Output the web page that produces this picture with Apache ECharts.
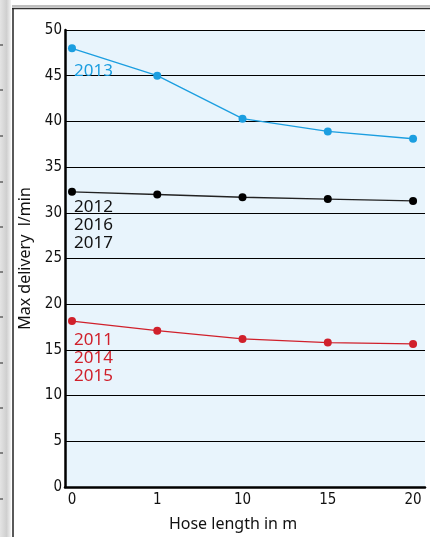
<!DOCTYPE html>
<html>
<head>
<meta charset="utf-8">
<script src="https://cdn.jsdelivr.net/npm/echarts@6/dist/echarts.min.js"></script>
<style>
html,body{margin:0;padding:0;background:#fff;}
#chart{width:430px;height:537px;}
</style>
</head>
<body>
<div id="chart"></div>
<script>
// Data
var hoseLengths = ['0', '1', '10', '15', '20'];
var yTicks = [0, 5, 10, 15, 20, 25, 30, 35, 40, 45, 50];
var series2013 = [48.0, 45.0, 40.3, 38.9, 38.1];
var series2012_2016_2017 = [32.3, 32.0, 31.7, 31.5, 31.3];
var series2011_2014_2015 = [18.15, 17.1, 16.2, 15.8, 15.65];
var labelBlue = '2013';
var labelBlack = ['2012', '2016', '2017'];
var labelRed = ['2011', '2014', '2015'];

function pts(arr) { return arr.map(function (v, i) { return [i, v]; }); }

var chart = echarts.init(document.getElementById('chart'), null, {renderer: 'canvas'});
var tickFont = '"DejaVu Sans Condensed", "Roboto", sans-serif';
var txtFont = 'Noto Sans';

var deco = [];
// left page strip
deco.push({type: 'rect', shape: {x: 0, y: 0, width: 11, height: 537}, silent: true,
  style: {fill: new echarts.graphic.LinearGradient(0, 0, 1, 0, [{offset: 0, color: '#e4e4e4'}, {offset: 0.6, color: '#cfcfcf'}, {offset: 1, color: '#f2f2f2'}])}});
[45, 90, 136, 182, 227, 272, 317, 363, 408, 453, 499].forEach(function (y) {
  deco.push({type: 'line', shape: {x1: 0, y1: y, x2: 3, y2: y}, silent: true, style: {stroke: '#222', lineWidth: 1}});
});
// frame
deco.push({type: 'line', shape: {x1: 12, y1: 6, x2: 430, y2: 6}, silent: true, style: {stroke: '#aaa', lineWidth: 1.5}});
deco.push({type: 'line', shape: {x1: 12, y1: 8.5, x2: 430, y2: 8.5}, silent: true, style: {stroke: '#333', lineWidth: 1.5}});
deco.push({type: 'line', shape: {x1: 13, y1: 8, x2: 13, y2: 537}, silent: true, style: {stroke: '#222', lineWidth: 1.5}});
// series annotations
deco.push({type: 'text', x: 74, y: 71.5, silent: true, z: 10,
  style: {text: labelBlue, fill: '#1b9ee0', font: '17px "' + txtFont + '"', verticalAlign: 'middle'}});
deco.push({type: 'text', x: 74, y: 198, silent: true, z: 10,
  style: {text: labelBlack.join('\n'), fill: '#111', font: '17px "' + txtFont + '"', lineHeight: 18, verticalAlign: 'top'}});
deco.push({type: 'text', x: 74, y: 331, silent: true, z: 10,
  style: {text: labelRed.join('\n'), fill: '#d0202b', font: '17px "' + txtFont + '"', lineHeight: 18, verticalAlign: 'top'}});

chart.setOption({
  animation: false,
  backgroundColor: '#fff',
  grid: {left: 65, right: 5, top: 30, bottom: 50, show: true, backgroundColor: '#e8f4fc', borderWidth: 0},
  xAxis: {
    type: 'value', min: -0.082, max: 4.14,
    name: 'Hose length in m', nameLocation: 'middle', nameGap: 29,
    nameTextStyle: {fontFamily: txtFont, fontSize: 16, color: '#111', padding: [0, 24, 0, 0]},
    axisLine: {show: true, onZero: false, lineStyle: {color: '#000', width: 2.5}},
    axisTick: {show: false},
    splitLine: {show: false},
    axisLabel: {customValues: [0, 1, 2, 3, 4], formatter: function (v) { return hoseLengths[Math.round(v)]; },
      fontFamily: tickFont, fontSize: 15, color: '#111', margin: 6}
  },
  yAxis: {
    type: 'value', min: 0, max: 50, interval: 5,
    name: 'Max delivery  l/min', nameLocation: 'middle', nameGap: 29, nameRotate: 90,
    nameTextStyle: {fontFamily: txtFont, fontSize: 16, color: '#111'},
    axisLine: {show: true, onZero: false, lineStyle: {color: '#000', width: 2.5}},
    axisTick: {show: false},
    splitLine: {show: true, lineStyle: {color: '#000', width: 1}},
    axisLabel: {fontFamily: tickFont, fontSize: 15, color: '#111', margin: 3,
      formatter: function (v) { return yTicks.indexOf(v) >= 0 ? String(v) : ''; }}
  },
  series: [
    {type: 'line', data: pts(series2013), symbol: 'circle', symbolSize: 8, z: 5,
      lineStyle: {color: '#1b9ee0', width: 1.3}, itemStyle: {color: '#1b9ee0'}},
    {type: 'line', data: pts(series2012_2016_2017), symbol: 'circle', symbolSize: 8, z: 5,
      lineStyle: {color: '#222', width: 1.3}, itemStyle: {color: '#000'}},
    {type: 'line', data: pts(series2011_2014_2015), symbol: 'circle', symbolSize: 8, z: 5,
      lineStyle: {color: '#d0202b', width: 1.3}, itemStyle: {color: '#d0202b'}}
  ],
  graphic: deco
});
</script>
</body>
</html>
